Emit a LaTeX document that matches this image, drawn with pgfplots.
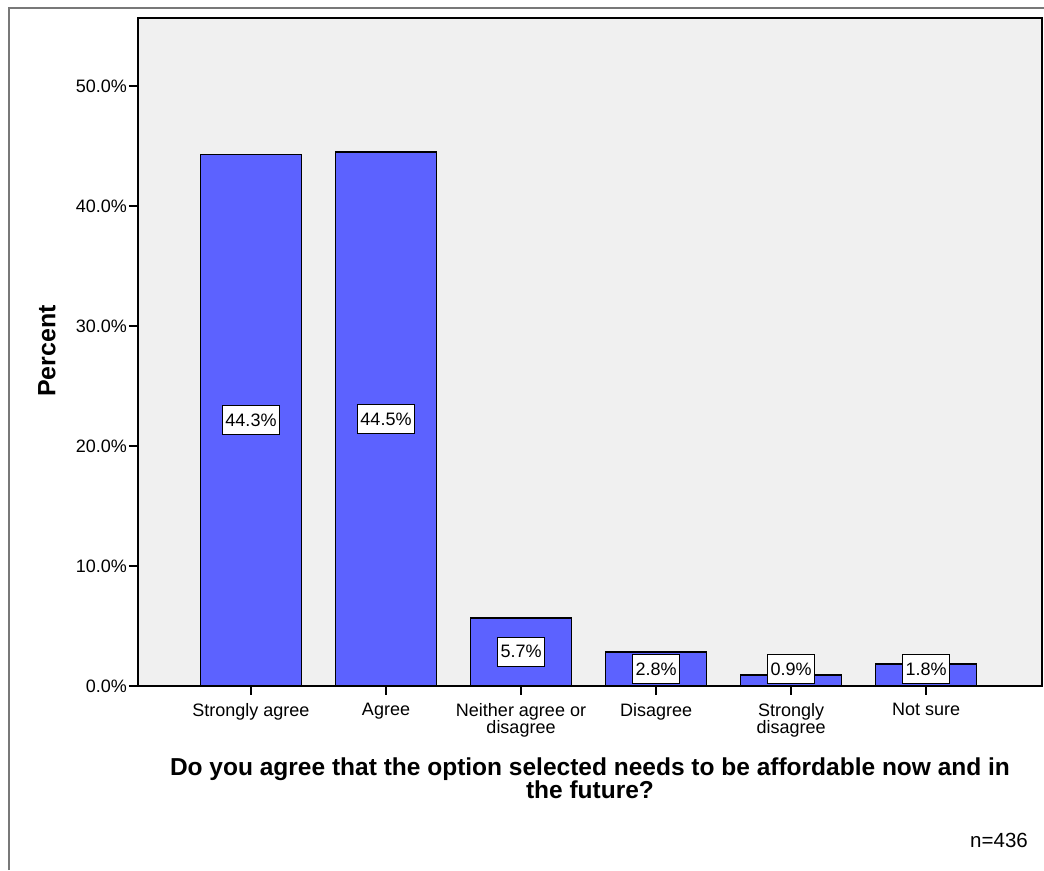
\documentclass[border=0pt]{standalone}
\usepackage{pgfplots}
\pgfplotsset{compat=1.18}
\usepackage{fontspec}
\setmainfont{Liberation Sans}
\definecolor{barblue}{RGB}{92,98,255}
\definecolor{plotbg}{RGB}{240,240,240}
\definecolor{framegrey}{RGB}{120,120,120}
\begin{document}
\begin{tikzpicture}[x=1pt,y=1pt]
\path[use as bounding box] (0,0) rectangle (1044,870);
\draw[framegrey, line width=1.5pt] (9,0) -- (9,862) -- (1044,862);
\begin{axis}[
  at={(138pt,184pt)}, anchor=south west,
  scale only axis, width=904pt, height=668pt,
  xmin=-0.837, xmax=5.859, ymin=0, ymax=55.67,
  axis background/.style={fill=plotbg},
  axis line style={black, line width=1.5pt},
  tick pos=left, tick align=outside,
  major tick length=9pt,
  tick style={black, line width=1.5pt},
  ytick={0,10,20,30,40,50},
  yticklabels={0.0\%,10.0\%,20.0\%,30.0\%,40.0\%,50.0\%},
  xtick={0,1,2,3,4,5},
  xticklabels={Strongly agree,Agree,Neither agree or\\disagree,Disagree,Strongly\\disagree,Not sure},
  yticklabel style={font=\fontsize{18}{20}\selectfont, inner sep=2pt},
  xticklabel style={font=\fontsize{18}{17}\selectfont, align=center, inner sep=2pt, yshift=-6pt},
  /pgf/number format/assume math mode=true,
]
\addplot[ybar, bar shift=0pt, bar width=101pt, fill=barblue, draw=black, line width=1.8pt]
  coordinates {(0,44.3) (1,44.5) (2,5.7) (3,2.8) (4,0.9) (5,1.8)};
\addplot[draw=none, mark=none, point meta=explicit,
  nodes near coords={\pgfmathprintnumber[fixed,fixed zerofill,precision=1]{\pgfplotspointmeta}\%},
  every node near coord/.style={anchor=center, fill=white, draw=black, line width=1.3pt,
    font=\fontsize{18}{20}\selectfont, inner xsep=3pt, inner ysep=0pt, minimum height=29pt}]
  table[x=x, y=ypos, meta=val] {
x ypos val
0 22.15 44.3
1 22.25 44.5
2 2.85 5.7
3 1.4 2.8
4 1.4 0.9
5 1.4 1.8
};
\end{axis}
\node[font=\fontsize{24.5}{23}\selectfont\bfseries, align=center] at (590,91.5)
  {Do you agree that the option selected needs to be affordable now and in\\the future?};
\node[font=\fontsize{25}{27}\selectfont\bfseries, rotate=90] at (47,519) {Percent};
\node[font=\fontsize{20.5}{22}\selectfont, anchor=east, inner sep=0pt] at (1028,30) {n=436};
\end{tikzpicture}
\end{document}
